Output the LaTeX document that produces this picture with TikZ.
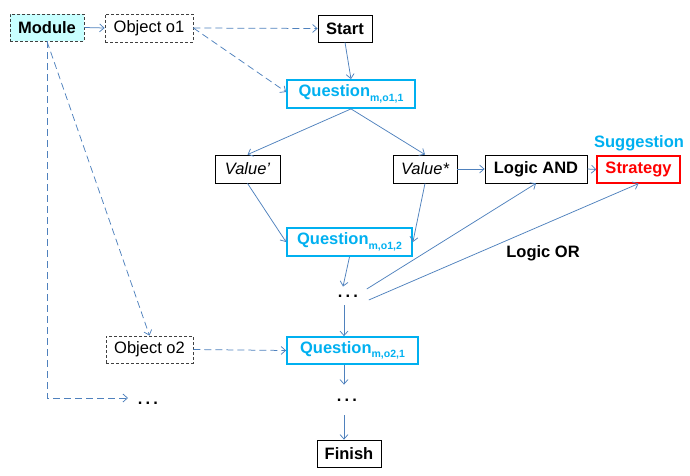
\documentclass[tikz,border=0pt]{standalone}
\usepackage{fontspec}
\setmainfont{Liberation Sans}
\usetikzlibrary{arrows.meta,calc}
\definecolor{linkblue}{HTML}{4F81BD}
\definecolor{qcyan}{HTML}{00B0F0}
\definecolor{modfill}{HTML}{C8FFFF}
\definecolor{dashgray}{HTML}{404040}
\newcommand{\qsub}[1]{Question{\fontsize{10.5}{10.5}\selectfont\raisebox{-4.5pt}{#1}}}
\newcommand{\spdots}{.\kern3.2pt.\kern3.2pt.}
\tikzset{
  base/.style={fontsize, inner sep=0pt, align=center},
  fontsize/.style={font=\fontsize{16.5}{19}\selectfont},
  plainbox/.style={base, draw=black, line width=0.8pt},
  objbox/.style={base, draw=dashgray, line width=0.8pt, dash pattern=on 3pt off 2pt},
  qbox/.style={base, draw=qcyan, line width=1.8pt, text=qcyan, font=\fontsize{16.5}{19}\selectfont\bfseries},
  link/.style={draw=linkblue, line width=0.75pt, -{Straight Barb[length=4.5pt,width=8pt]}},
  dlink/.style={link, dash pattern=on 7pt off 4pt},
  dotsnode/.style={base, inner sep=2.5pt, font=\fontsize{16.5}{19}\selectfont\bfseries},
}
\begin{document}
\begin{tikzpicture}[x=1pt,y=-1pt]
\useasboundingbox (0,0) rectangle (690,476);

% nodes
\node[objbox, fill=modfill, minimum width=74pt, minimum height=27pt, font=\fontsize{16.5}{19}\selectfont\bfseries] (module) at (47,27.5) {Module};
\node[objbox, minimum width=88pt, minimum height=28pt] (obj1) at (149,28) {Object o1};
\node[plainbox, minimum width=54pt, minimum height=27pt, font=\fontsize{16.5}{19}\selectfont\bfseries] (start) at (345,28.5) {Start};
\node[qbox, minimum width=128pt, minimum height=28pt] (q1) at (351,94) {\qsub{m,o1,1}};
\node[plainbox, minimum width=65pt, minimum height=28pt, font=\fontsize{16.5}{19}\selectfont\itshape] (vp) at (247.5,169) {Value’};
\node[plainbox, minimum width=64pt, minimum height=28pt, font=\fontsize{16.5}{19}\selectfont\itshape] (vs) at (425,169) {Value*};
\node[plainbox, minimum width=102pt, minimum height=28pt, font=\fontsize{16.5}{19}\selectfont\bfseries] (land) at (536,169) {Logic AND};
\node[base, draw=red, line width=1.2pt, text=red, minimum width=83pt, minimum height=27pt, font=\fontsize{16.5}{19}\selectfont\bfseries] (strat) at (638.5,169.5) {Strategy};
\node[base, text=qcyan, font=\fontsize{16.5}{19}\selectfont\bfseries] (sugg) at (639,143) {Suggestion};
\node[qbox, minimum width=125pt, minimum height=28pt] (q2) at (349.5,242) {\qsub{m,o1,2}};
\node[base, font=\fontsize{16.5}{19}\selectfont\bfseries] (lor) at (543,253) {Logic OR};
\node[dotsnode] (d1) at (348,296) {\spdots};
\node[objbox, minimum width=87pt, minimum height=27pt] (obj2) at (149.5,349.5) {Object o2};
\node[qbox, minimum width=131pt, minimum height=27pt] (q3) at (352.5,350.5) {\qsub{m,o2,1}};
\node[dotsnode] (dl) at (148,403) {\spdots};
\node[dotsnode] (d3) at (347,400) {\spdots};
\node[plainbox, minimum width=64pt, minimum height=27pt, font=\fontsize{16.5}{19}\selectfont\bfseries] (finish) at (349,453.5) {Finish};
\coordinate (dlin) at (128,398);

% connectors
\draw[link] (module.east) -- (obj1.west);
\draw[dlink] (obj1.east) -- (start.west);
\draw[dlink] (obj1.east) -- ([yshift=2pt]q1.west);
\draw[link] (start.south) -- (q1.north);
\draw[link] (q1.south) -- (vp.north);
\draw[link] (q1.south) -- (vs.north);
\draw[link] (vp.south) -- (q2.west);
\draw[link] (vs.south) -- (q2.east);
\draw[link] (vs.east) -- (land.west);
\draw[link] (land.east) -- (strat.west);
% shifts below are page offsets (positive yshift = up)
\draw[link] (q2.south) -- ([xshift=-5pt,yshift=5.5pt]d1.north);
\draw[link] ([xshift=6pt,yshift=7pt]d1.east) -- (land.south);
\draw[link] ([xshift=8pt,yshift=-4pt]d1.east) -- (strat.south);
\draw[link] ([xshift=-4pt,yshift=-5.5pt]d1.south) -- ([xshift=-4pt]d1.south |- q3.north);
\draw[dlink] (module.south) -- (obj2.north);
\draw[dlink] (module.south) |- (dlin);
\draw[dlink] (obj2.east) -- (q3.west);
\draw[link] ([xshift=-3pt]q3.south -| d3.north) -- ([xshift=-3pt,yshift=11.5pt]d3.north);
\draw[link] ([xshift=-3pt,yshift=-11.5pt]d3.south) -- ([xshift=-3pt]d3.south |- finish.north);
\end{tikzpicture}
\end{document}
